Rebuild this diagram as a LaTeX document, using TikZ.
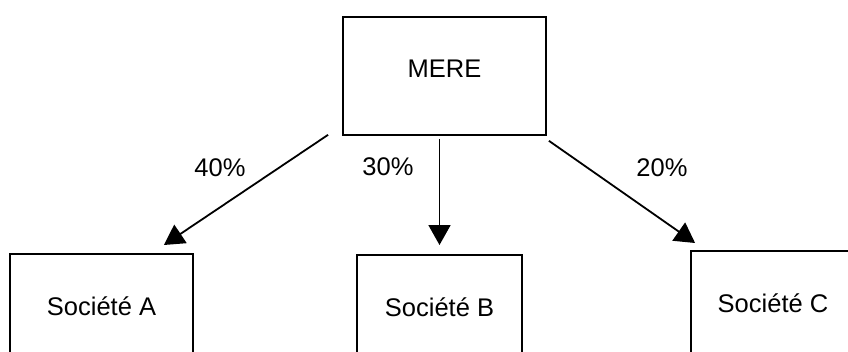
\documentclass[tikz,border=0pt]{standalone}
\usepackage{fontspec}
\setmainfont{Liberation Sans}
\usetikzlibrary{arrows.meta, calc}

\begin{document}
\begin{tikzpicture}[x=1pt, y=-1pt,
    % boites des societes (le bas sort du cadre)
    entity/.style={draw, rectangle, line width=1.8pt, anchor=north,
                   font=\fontsize{25.5}{30}\selectfont,
                   minimum height=118pt, text depth=14pt},
    arrow/.style={line width=1.8pt, -{Triangle[length=20pt, width=22pt]}},
    pct/.style={font=\fontsize{25.5}{30}\selectfont}
]
\useasboundingbox (0,0) rectangle (848,351);
\clip (0,0) rectangle (848,351);

% societe mere
\node[entity, minimum width=203pt] (mere) at (444.5, 16) {MERE};

% filiales
\node[entity, minimum width=183pt] (socA) at (101.5, 253) {Société A};
\node[entity, minimum width=165pt] (socB) at (439.5, 254) {Société B};
\node[entity, minimum width=164pt] (socC) at (773, 250) {Société C};

% participations
\draw[arrow] ($(mere.south west)+(-14,-1)$) -- ($(socA.north east)+(-30,-8)$);
\draw[arrow] ($(socB.north |- mere.south)+(0,3)$) -- ($(socB.north)+(0,-9)$);
\draw[arrow] ($(mere.south east)+(2,5)$) -- ($(socC.north west)+(5,-7)$);

\node[pct] (p40) at (220, 168) {40\%};
\node[pct] (p30) at (388, 167) {30\%};
\node[pct] (p20) at (662, 168) {20\%};

\end{tikzpicture}
\end{document}
